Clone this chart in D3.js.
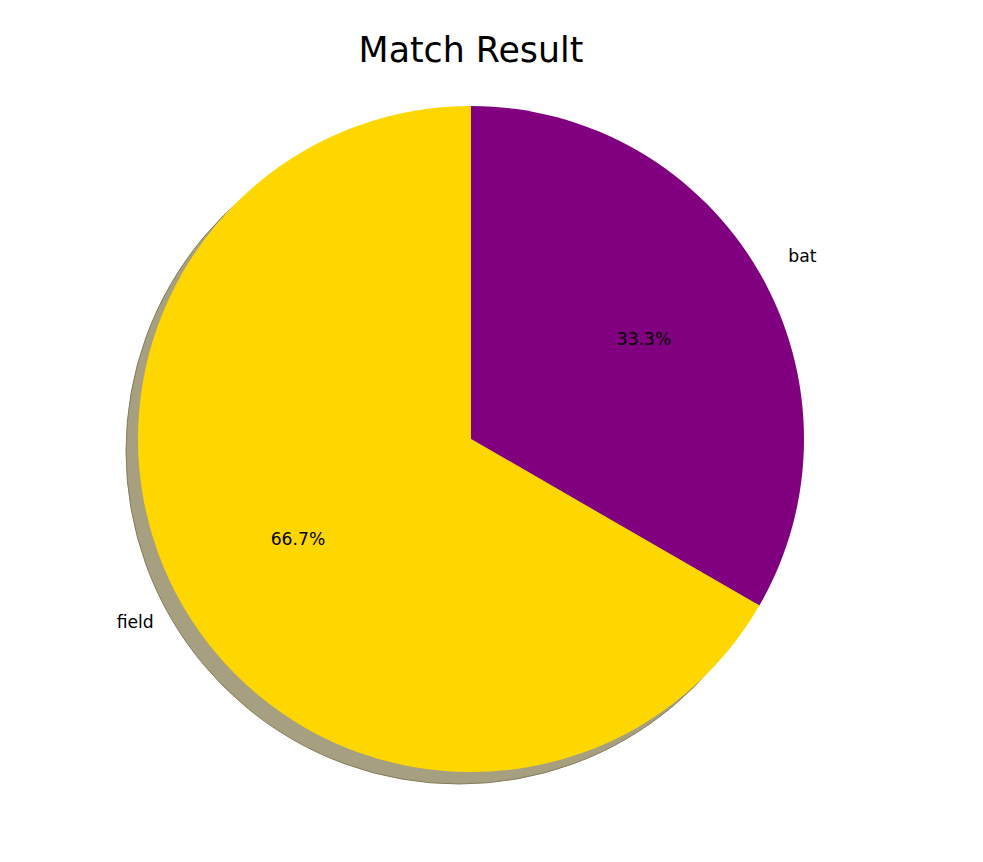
<!DOCTYPE html>
<html><head><meta charset="utf-8">
<script src="https://cdn.jsdelivr.net/npm/d3@7"></script>
<style>body{margin:0;background:#fff}</style>
</head><body>
<svg id="chart" width="983" height="862"></svg>
<script>
const categories = ["bat", "field"];
const values = [1, 2];
const colors = ["#800080", "#FFD700"];
const title = "Match Result";

const svg = d3.select("#chart");
const W = 983, H = 862;
const cx = 471, cy = 439, R = 333;

svg.append("rect").attr("width", W).attr("height", H).attr("fill", "#fff");

const total = d3.sum(values);
const pie = d3.pie().sort(null).startAngle(0).endAngle(2 * Math.PI);
const arcs = pie(values);
const arc = d3.arc().innerRadius(0).outerRadius(R);

// shadows
const sh = svg.append("g").attr("transform", `translate(${cx - 12},${cy + 12})`);
sh.selectAll("path").data(arcs).join("path")
  .attr("d", arc)
  .attr("fill", (d, i) => {
    const c = d3.rgb(colors[i]);
    return d3.rgb(255 - 0.5 * (255 - 0.3 * c.r), 255 - 0.5 * (255 - 0.3 * c.g), 255 - 0.5 * (255 - 0.3 * c.b));
  })
  .attr("stroke", (d, i) => i === 1 ? "#857d5a" : "none")
  .attr("stroke-width", 1);

const g = svg.append("g").attr("transform", `translate(${cx},${cy})`);
g.selectAll("path").data(arcs).join("path")
  .attr("d", arc)
  .attr("fill", (d, i) => colors[i]);

const font = "DejaVu Sans, sans-serif";
arcs.forEach((d, i) => {
  const mid = (d.startAngle + d.endAngle) / 2;
  const sx = Math.sin(mid), sy = -Math.cos(mid);
  g.append("text")
    .attr("x", 1.1 * R * sx).attr("y", 1.1 * R * sy)
    .attr("text-anchor", sx >= 0 ? "start" : "end")
    .attr("dy", "0.33em")
    .attr("font-family", font).attr("font-size", 17.2)
    .text(categories[i]);
  g.append("text")
    .attr("x", 0.6 * R * sx).attr("y", 0.6 * R * sy)
    .attr("text-anchor", "middle")
    .attr("dy", "0.33em")
    .attr("font-family", font).attr("font-size", 17.2)
    .text((values[i] / total * 100).toFixed(1) + "%");
});

svg.append("text")
  .attr("x", cx).attr("y", 62)
  .attr("text-anchor", "middle")
  .attr("font-family", font).attr("font-size", 34.8)
  .text(title);
</script>
</body></html>
